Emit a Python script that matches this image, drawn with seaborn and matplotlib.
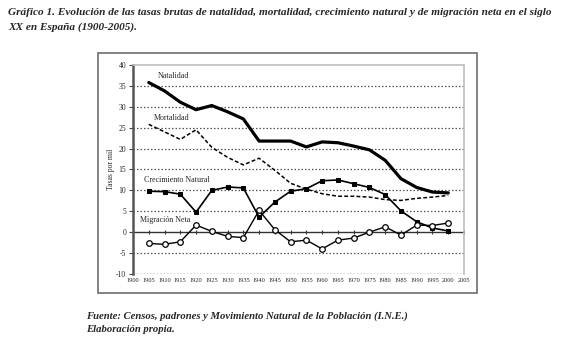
import matplotlib
matplotlib.use("Agg")
import matplotlib.pyplot as plt
import seaborn as sns
import pandas as pd
from matplotlib.patches import Rectangle

years = [1905, 1910, 1915, 1920, 1925, 1930, 1935, 1940, 1945, 1950,
         1955, 1960, 1965, 1970, 1975, 1980, 1985, 1990, 1995, 2000]
natalidad = [35.8, 33.8, 31.1, 29.3, 30.3, 28.8, 27.1, 21.8, 21.8, 21.8,
             20.4, 21.6, 21.4, 20.6, 19.7, 17.2, 12.8, 10.7, 9.6, 9.4]
mortalidad = [25.8, 24.0, 22.2, 24.5, 20.3, 17.9, 16.1, 17.7, 14.8, 11.7,
              10.3, 9.2, 8.6, 8.6, 8.4, 7.8, 7.6, 8.1, 8.4, 8.8]
crecimiento = [9.8, 9.7, 9.1, 4.8, 10.0, 10.8, 10.6, 3.6, 7.2, 9.8,
               10.4, 12.3, 12.5, 11.6, 10.7, 9.0, 5.1, 2.5, 1.0, 0.3]
migracion = [-2.7, -2.9, -2.3, 1.7, 0.2, -1.0, -1.3, 5.2, 0.6, -2.3,
             -1.9, -4.0, -1.9, -1.4, 0.0, 1.3, -0.7, 1.7, 1.6, 2.2]
xticks = list(range(1900, 2006, 5))
yticks = list(range(-10, 41, 5))

df = pd.DataFrame({"year": years, "nat": natalidad, "mor": mortalidad,
                   "cre": crecimiento, "mig": migracion})

sns.set_style("white")
plt.rcParams["font.family"] = ["Liberation Serif", "DejaVu Serif"]

fig = plt.figure(figsize=(5.8, 3.44), dpi=100)
ax = fig.add_axes([0.2293, 0.2035, 0.5707, 0.6076])

# outer frame
fig.patches.append(Rectangle((0.169, 0.148), 0.653, 0.698, transform=fig.transFigure,
                             fill=False, edgecolor="#6e6e6e", linewidth=1.2, zorder=0))

# grid
for v in yticks:
    if v == 0:
        ax.axhline(v, color="#333333", lw=1.0, zorder=1)
    elif v in (-10, 40):
        continue
    else:
        ax.axhline(v, color="#555555", lw=0.9, ls=(0, (1.2, 1.6)), zorder=1)
ax.axhline(-10, color="#444444", lw=1.0, ls=(0, (1.2, 1.2)), zorder=2)

sns.lineplot(data=df, x="year", y="nat", ax=ax, color="black", lw=2.3, zorder=4)
sns.lineplot(data=df, x="year", y="mor", ax=ax, color="black", lw=1.1,
             dashes=False, zorder=4).lines[-1].set_linestyle((0, (2.5, 1.5)))
sns.lineplot(data=df, x="year", y="cre", ax=ax, color="black", lw=1.2,
             marker="s", markersize=3.3, markeredgecolor="black", zorder=5)
sns.lineplot(data=df, x="year", y="mig", ax=ax, color="black", lw=1.0,
             marker="o", markersize=4.0, markerfacecolor="white",
             markeredgecolor="black", markeredgewidth=0.9, zorder=5)

# ticks on zero line (category axis crossing)
ax.plot(xticks, [0] * len(xticks), ls="none", marker="|", color="#333333",
        markersize=3, markeredgewidth=0.8, zorder=2)

ax.set_xlim(1900, 2005)
ax.set_ylim(-10, 40)
ax.set_xticks(xticks)
ax.set_xticklabels([str(t) for t in xticks], fontsize=4.6)
ax.set_yticks(yticks)
ax.set_yticklabels([str(t) for t in yticks], fontsize=5.5)
ax.tick_params(axis="y", length=3, width=0.8, pad=2, direction="out", left=True, color="#444444")
ax.tick_params(axis="x", length=0, pad=3)
ax.set_xlabel("")
ax.set_ylabel("Tasas por mil", fontsize=5.5, labelpad=1)

for side in ["top", "right"]:
    ax.spines[side].set_color("#bdbdbd")
    ax.spines[side].set_linewidth(1.2)
ax.spines["left"].set_color("#555555")
ax.spines["left"].set_linewidth(1.8)
ax.spines["bottom"].set_visible(False)

lab = dict(fontsize=5.8, ha="center", va="center")
ax.text(1912.8, 37.4, "Natalidad", **lab)
ax.text(1912.2, 27.4, "Mortalidad", **lab)
ax.text(1914.0, 12.5, "Crecimiento Natural", **lab)
ax.text(1910.3, 3.0, "Migración Neta", **lab)

fig.text(0.014, 0.977, "Gráfico 1. Evolución de las tasas brutas de natalidad, mortalidad, crecimiento natural y de migración neta en el siglo\nXX en España (1900-2005).",
         fontsize=8.1, fontweight="bold", fontstyle="italic", ha="left", va="top", linespacing=1.75)
fig.text(0.148, 0.096, "Fuente: Censos, padrones y Movimiento Natural de la Población (I.N.E.)\nElaboración propia.",
         fontsize=7.7, fontweight="bold", fontstyle="italic", ha="left", va="top", linespacing=1.6)

fig.savefig("out.png", dpi=100, facecolor="white")
